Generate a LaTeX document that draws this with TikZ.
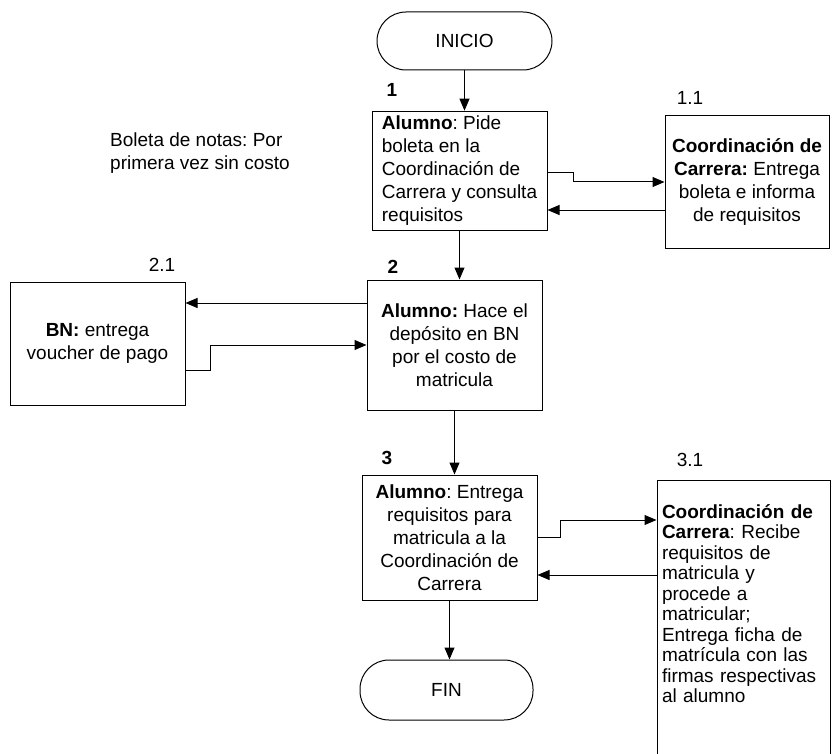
\documentclass[tikz,border=0pt]{standalone}
\usepackage{fontspec}
\setmainfont{Liberation Sans}
\usetikzlibrary{arrows.meta,positioning}
\frenchspacing

\begin{document}
\begin{tikzpicture}[x=1pt,y=-1pt,
    font=\fontsize{19}{23}\selectfont,
    box/.style={draw,line width=1pt,inner sep=5pt},
    term/.style={draw,line width=1pt,rounded corners=29pt,minimum height=58pt},
    flow/.style={line width=1pt,-{Triangle[length=12pt,width=10pt]}},
    numlabel/.style={inner sep=0pt,font=\fontsize{19}{23}\selectfont\bfseries},
    sublabel/.style={inner sep=0pt}]
      \useasboundingbox (0,0) rectangle (832,754);
      \clip (0,0) rectangle (832,754);
      \node[term,minimum width=175pt] (ini) at (464.5,41) {INICIO};
      \node[box,minimum width=175pt,minimum height=118pt,align=left] (b1) at (459.5,171)
        {\textbf{Alumno}: Pide\\boleta en la\\Coordinación de\\Carrera y consulta\\requisitos};
      \node[box,minimum width=164pt,minimum height=132pt,align=center] (b11) at (747,182)
        {\textbf{Coordinación de}\\\textbf{Carrera:} Entrega\\boleta e informa\\de requisitos};
      \node[anchor=west,align=left,inner sep=0pt] (nota) at (110,153)
        {Boleta de notas: Por\\primera vez sin costo};
      \node[box,minimum width=175pt,minimum height=130pt,align=center] (b2) at (454.5,345)
        {\textbf{Alumno:} Hace el\\depósito en BN\\por el costo de\\matricula};
      \node[box,minimum width=175pt,minimum height=123pt,align=center] (b21) at (97.5,343.5)
        {\textbf{BN:} entrega\\voucher de pago};
      \node[box,minimum width=175pt,minimum height=125pt,align=center] (b3) at (449.5,537.5)
        {\textbf{Alumno}: Entrega\\requisitos para\\matricula a la\\Coordinación de\\Carrera};
      \node[box,anchor=north,text width=163pt,inner ysep=24pt,align=left,
        font=\fontsize{19}{20.5}\selectfont] (b31) at (743.5,480)
        {\textbf{Coordinación de}\\\textbf{Carrera}: Recibe\\requisitos de\\matricula y\\procede a\\matricular;\\Entrega ficha de\\matrícula con las\\firmas respectivas\\al alumno\\~\\~};
      \node[term,minimum width=173pt,minimum height=60pt] (fin) at (446.5,690) {FIN};

      \node[numlabel] (n1) at (392,90) {1};
      \node[numlabel] (n2) at (393,267) {2};
      \node[numlabel] (n3) at (387,458) {3};
      \node[sublabel] (n11) at (690,98) {1.1};
      \node[sublabel] (n21) at (162,265) {2.1};
      \node[sublabel] (n31) at (690,460) {3.1};

      \draw[flow] (ini.south) -- (ini.south |- b1.north);
      \draw[flow] (b1.south) -- (b1.south |- b2.north);
      \draw[flow] (b2.south) -- (b2.south |- b3.north);
      \draw[flow] (b3.south) -- (b3.south |- fin.north);
      \draw[flow] ([yshift=-2pt]b1.east) -- ++(26,0) |- (b11.west);
      \draw[flow] ([yshift=-28pt]b11.west) -- ([yshift=-28pt]b11.west -| b1.east);
      \draw[flow] ([yshift=42pt]b2.west) -- ([yshift=42pt]b2.west -| b21.east);
      \draw[flow] ([yshift=-27pt]b21.east) -- ++(25,0) |- (b2.west);
      \draw[flow] (b3.east) -- ++(23,0) |- ([yshift=-40pt]b31.north west);
      \draw[flow] ([yshift=-95pt]b31.north west) -- ([yshift=-95pt]b31.north west -| b3.east);
    \end{tikzpicture}
\end{document}
